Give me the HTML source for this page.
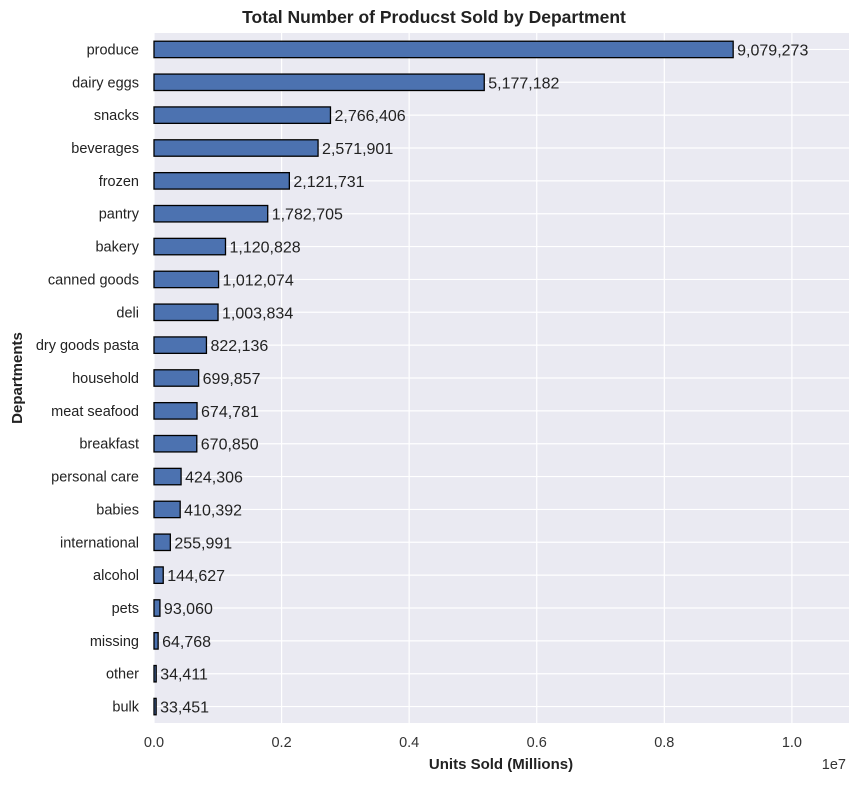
<!DOCTYPE html>
<html><head><meta charset="utf-8"><style>
body{margin:0;background:#fff;font-family:"Liberation Sans","DejaVu Sans",sans-serif}
svg text{font-family:"Liberation Sans","DejaVu Sans",sans-serif}
</style></head><body>
<svg id="chart" width="860" height="783">
<rect x="154" y="33" width="695" height="690" fill="#eaeaf2"/>
<g id="grid"></g><g id="bars"></g><g id="labels"></g>
<text x="434" y="23" text-anchor="middle" font-size="17.5" font-weight="bold" fill="#222">Total Number of Producst Sold by Department</text>
<text x="501" y="769" text-anchor="middle" font-size="15" font-weight="bold" fill="#222">Units Sold (Millions)</text>
<text transform="translate(22,378) rotate(-90)" text-anchor="middle" font-size="15" font-weight="bold" fill="#222">Departments</text>
<text x="846" y="769" text-anchor="end" font-size="14.5" fill="#333">1e7</text>
</svg>
<script>
const categories=["produce","dairy eggs","snacks","beverages","frozen","pantry","bakery","canned goods","deli","dry goods pasta","household","meat seafood","breakfast","personal care","babies","international","alcohol","pets","missing","other","bulk"];
const values=[9079273,5177182,2766406,2571901,2121731,1782705,1120828,1012074,1003834,822136,699857,674781,670850,424306,410392,255991,144627,93060,64768,34411,33451];
const xTicks=[0,0.2e7,0.4e7,0.6e7,0.8e7,1.0e7];
const xTickLabels=["0.0","0.2","0.4","0.6","0.8","1.0"];
const NS="http://www.w3.org/2000/svg";
const L=154,R=849,T=33,B=723;
const xmax=Math.max(...values)*1.2;
const x=v=>L+v/xmax*(R-L);
const band=(B-T)/categories.length;
const y=i=>T+band*(i+0.5);
function mk(tag,attrs,parent){const e=document.createElementNS(NS,tag);for(const k in attrs)e.setAttribute(k,attrs[k]);document.getElementById(parent).appendChild(e);return e;}
xTicks.forEach((t,i)=>{
 const g=mk('line',{x1:x(t),x2:x(t),y1:T,y2:B,stroke:'#fff','stroke-width':1.2},'grid');
 
 
 const tl=mk('text',{x:x(t),y:B+24,'text-anchor':'middle','font-size':14.5,fill:'#333'},'labels');
 tl.textContent=xTickLabels[i];
 
 
});
categories.forEach((c,i)=>{
 const g=mk('line',{x1:L,x2:R,y1:y(i),y2:y(i),stroke:'#fff','stroke-width':1.2},'grid');
 
 
 const h=band*0.5;
 const b=mk('rect',{x:L,y:y(i)-h/2,width:Math.max(x(values[i])-L,0.5),height:h,fill:'#4c72b0',stroke:'#000','stroke-width':1.3},'bars');
 
 
 const vl=mk('text',{x:x(values[i])+4,y:y(i)+6,'font-size':16,fill:'#222'},'labels');
 vl.textContent=values[i].toLocaleString('en-US');
 
 
 const cl=mk('text',{x:L-15,y:y(i)+5,'text-anchor':'end','font-size':14.5,fill:'#222'},'labels');
 cl.textContent=c;
 
 
});
</script>
</body></html>
